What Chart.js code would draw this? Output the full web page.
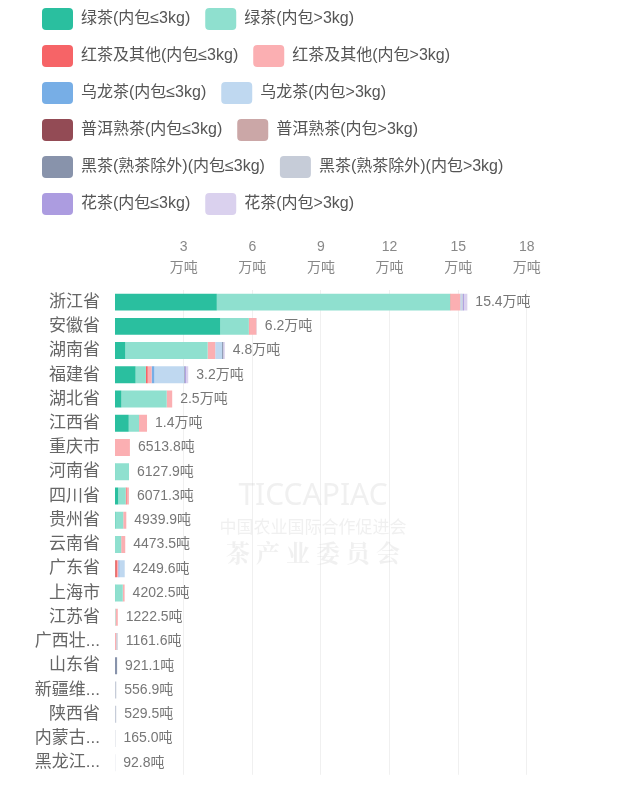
<!DOCTYPE html>
<html>
<head>
<meta charset="utf-8">
<script src="https://cdn.jsdelivr.net/npm/chart.js@4/dist/chart.umd.min.js"></script>
<style>
  html, body { margin: 0; padding: 0; background: #fff; overflow: hidden; }
  #wrap { position: relative; width: 639px; height: 807px; margin-top: -7px; }
</style>
</head>
<body>
<div id="wrap"><canvas id="teaChart"></canvas></div>
<script>
// provinces, top to bottom
var provinces = ['浙江省', '安徽省', '湖南省', '福建省', '湖北省', '江西省', '重庆市', '河南省', '四川省', '贵州省',
    '云南省', '广东省', '上海市', '江苏省', '广西壮族自治区', '山东省', '新疆维吾尔自治区', '陕西省', '内蒙古自治区', '黑龙江省'];

// totals in 吨 (shown after each bar)
var totals = [154000, 62000, 48000, 32000, 25000, 14000, 6513.8, 6127.9, 6071.3, 4939.9,
    4473.5, 4249.6, 4202.5, 1222.5, 1161.6, 921.1, 556.9, 529.5, 165.0, 92.8];

// series in 万吨
var greenSmall  = [4.45, 4.6, 0.45, 0.9, 0.28, 0.6, 0, 0.01, 0.14, 0.02, 0, 0.005, 0.01, 0, 0, 0, 0, 0, 0, 0];
var greenLarge  = [10.2, 1.25, 3.6, 0.45, 1.98, 0.45, 0, 0.60279, 0.33, 0.34, 0.27, 0, 0.33, 0.02, 0, 0, 0, 0, 0, 0];
var redSmall    = [0.02, 0.02, 0, 0.08, 0, 0, 0, 0, 0.04, 0, 0, 0.08, 0, 0, 0, 0, 0, 0, 0, 0];
var redLarge    = [0.42, 0.31, 0.33, 0.17, 0.24, 0.35, 0.65138, 0, 0.09713, 0.13399, 0.17735, 0.06, 0.08025, 0.10225, 0.05, 0, 0, 0, 0, 0];
var oolongSmall = [0.01, 0, 0, 0.12, 0, 0, 0, 0, 0, 0, 0, 0.05, 0, 0, 0, 0, 0, 0, 0, 0];
var oolongLarge = [0.05, 0.02, 0.3, 1.3, 0, 0, 0, 0, 0, 0, 0, 0.22996, 0, 0, 0, 0, 0, 0, 0, 0];
var puerSmall   = [0, 0, 0, 0, 0, 0, 0, 0, 0, 0, 0, 0, 0, 0, 0, 0, 0, 0, 0, 0];
var puerLarge   = [0, 0, 0, 0, 0, 0, 0, 0, 0, 0, 0, 0, 0, 0, 0, 0, 0, 0, 0, 0];
var darkSmall   = [0.02, 0, 0.05, 0.03, 0, 0, 0, 0, 0, 0, 0, 0, 0, 0, 0, 0.09211, 0, 0, 0, 0];
var darkLarge   = [0.03, 0, 0, 0, 0, 0, 0, 0, 0, 0, 0, 0, 0, 0, 0.06616, 0, 0.05569, 0.05295, 0.0165, 0.00928];
var flowerSmall = [0.05, 0, 0, 0.05, 0, 0, 0, 0, 0, 0, 0, 0, 0, 0, 0, 0, 0, 0, 0, 0];
var flowerLarge = [0.15, 0, 0.07, 0.1, 0, 0, 0, 0, 0, 0, 0, 0, 0, 0, 0, 0, 0, 0, 0, 0];

var xTicks = [3, 6, 9, 12, 15, 18];

var series = [
    ['绿茶(内包≤3kg)', greenSmall, '#2abf9f'],
    ['绿茶(内包>3kg)', greenLarge, '#8fe0cf'],
    ['红茶及其他(内包≤3kg)', redSmall, '#f66467'],
    ['红茶及其他(内包>3kg)', redLarge, '#fbafb2'],
    ['乌龙茶(内包≤3kg)', oolongSmall, '#77aee6'],
    ['乌龙茶(内包>3kg)', oolongLarge, '#bfd8f0'],
    ['普洱熟茶(内包≤3kg)', puerSmall, '#934b55'],
    ['普洱熟茶(内包>3kg)', puerLarge, '#cba7a7'],
    ['黑茶(熟茶除外)(内包≤3kg)', darkSmall, '#8893ab'],
    ['黑茶(熟茶除外)(内包>3kg)', darkLarge, '#c6ccd8'],
    ['花茶(内包≤3kg)', flowerSmall, '#ac9ce0'],
    ['花茶(内包>3kg)', flowerLarge, '#dad1ee']
];

function fmtTotal(v) {
    if (v >= 10000) return (v / 10000).toFixed(1) + '万吨';
    return v.toFixed(1) + '吨';
}

Chart.defaults.font.family = '"Liberation Sans", "Noto Sans CJK SC", sans-serif';

// faint watermark behind the bars
var watermark = {
    id: 'watermark',
    beforeDatasetsDraw: function (chart) {
        var ctx = chart.ctx;
        ctx.save();
        ctx.textAlign = 'center';
        ctx.textBaseline = 'middle';
        ctx.fillStyle = 'rgba(205,205,205,0.3)';
        ctx.font = '30px "Noto Sans", sans-serif';
        ctx.fillText('TICCAPIAC', 313, 503);
        ctx.font = '17px "Noto Sans CJK SC"';
        ctx.fillText('中国农业国际合作促进会', 313, 534);
        ctx.font = 'bold 24px "Noto Serif CJK SC", "Noto Sans CJK SC"';
        ctx.fillText('茶 产 业 委 员 会', 313, 560);
        ctx.restore();
    }
};

// total label at the end of each stack
var totalLabels = {
    id: 'totalLabels',
    afterDatasetsDraw: function (chart) {
        var ctx = chart.ctx;
        var last = chart.getDatasetMeta(chart.data.datasets.length - 1);
        ctx.save();
        ctx.font = '14px "Liberation Sans", "Noto Sans CJK SC"';
        ctx.fillStyle = '#777';
        ctx.textAlign = 'left';
        ctx.textBaseline = 'middle';
        last.data.forEach(function (bar, i) {
            ctx.fillText(fmtTotal(totals[i]), bar.x + 8, bar.y);
        });
        ctx.restore();
    }
};

var ctx = document.getElementById('teaChart').getContext('2d');
var chart = new Chart(ctx, {
    type: 'bar',
    data: {
        labels: provinces,
        datasets: series.map(function (s) {
            return {
                label: s[0],
                data: s[1],
                backgroundColor: s[2],
                borderWidth: 0,
                barPercentage: 0.7,
                categoryPercentage: 1
            };
        })
    },
    options: {
        indexAxis: 'y',
        responsive: true,
        maintainAspectRatio: false,
        animation: false,
        layout: { padding: { left: 27, right: 87, top: 0, bottom: 19 } },
        plugins: {
            legend: {
                position: 'top',
                align: 'start',
                labels: {
                    boxWidth: 31,
                    boxHeight: 22,
                    padding: 15,
                    useBorderRadius: true,
                    borderRadius: 4,
                    color: '#555',
                    font: { size: 16 }
                }
            },
            tooltip: { enabled: false }
        },
        scales: {
            x: {
                position: 'top',
                stacked: true,
                min: 0,
                max: 19.1,
                afterBuildTicks: function (s) {
                    s.ticks = xTicks.map(function (v) { return { value: v }; });
                },
                afterFit: function (s) { s.height = 65; },
                grid: { color: '#f0f0f0', drawTicks: false },
                border: { display: false },
                ticks: {
                    padding: 11,
                    color: '#888',
                    font: { size: 14, lineHeight: 1.5 },
                    maxRotation: 0,
                    callback: function (v) { return [String(v), '万吨']; }
                }
            },
            y: {
                stacked: true,
                afterFit: function (s) { s.width = 88; },
                grid: { display: false, drawTicks: false },
                border: { display: false },
                ticks: {
                    padding: 15,
                    color: '#666',
                    font: { size: 17 },
                    autoSkip: false,
                    callback: function (v) {
                        var name = provinces[v];
                        return name.length > 3 ? name.slice(0, 3) + '...' : name;
                    }
                }
            }
        }
    },
    plugins: [watermark, totalLabels]
});
</script>
</body>
</html>
